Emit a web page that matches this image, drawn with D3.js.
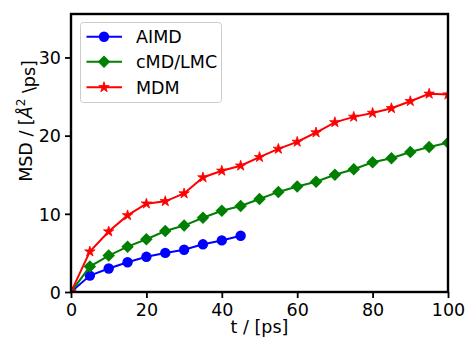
<!DOCTYPE html>
<html>
<head>
<meta charset="utf-8">
<script src="https://cdn.jsdelivr.net/npm/d3@7"></script>
<style>
  body { margin: 0; background: #fff; }
  text { font-family: "DejaVu Sans", sans-serif; }
</style>
</head>
<body>
<main></main>
<script>
// data
const tAIMD = [0, 5, 10, 15, 20, 25, 30, 35, 40, 45];
const msdAIMD = [0, 2.1, 3.0, 3.8, 4.5, 5.0, 5.4, 6.1, 6.6, 7.2];
const tLong = [0, 5, 10, 15, 20, 25, 30, 35, 40, 45, 50, 55, 60, 65, 70, 75, 80, 85, 90, 95, 100];
const msdCMD = [0, 3.25, 4.66, 5.8, 6.75, 7.8, 8.5, 9.5, 10.4, 11.0, 11.9, 12.8, 13.5, 14.1, 15.0, 15.7, 16.6, 17.1, 17.9, 18.55, 19.1];
const msdMDM = [0, 5.17, 7.73, 9.8, 11.3, 11.6, 12.6, 14.65, 15.5, 16.15, 17.25, 18.3, 19.2, 20.4, 21.7, 22.4, 22.9, 23.5, 24.4, 25.35, 25.25];
const xTicks = [0, 20, 40, 60, 80, 100];
const yTicks = [0, 10, 20, 30];
const seriesNames = ['AIMD', 'cMD/LMC', 'MDM'];

const width = 467, height = 343;
const mLeft = 71, mRight = 448, mTop = 14, mBottom = 292;

const svg = d3.select('main').append('svg')
  .attr('width', width)
  .attr('height', height);

const x = d3.scaleLinear().domain([0, 100]).range([mLeft, mRight]);
const y = d3.scaleLinear().domain([0, 35.56]).range([mBottom, mTop]);

svg.append('defs').append('clipPath').attr('id', 'clip')
  .append('rect')
  .attr('x', mLeft).attr('y', mTop)
  .attr('width', mRight - mLeft).attr('height', mBottom - mTop);

const series = [
  {name: seriesNames[0], t: tAIMD, v: msdAIMD, color: '#0000ff', shape: 'circle'},
  {name: seriesNames[1], t: tLong, v: msdCMD, color: '#008000', shape: 'diamond'},
  {name: seriesNames[2], t: tLong, v: msdMDM, color: '#ff0000', shape: 'star'}
];

function marker(sel, shape, color) {
  if (shape === 'circle') {
    sel.append('circle').attr('r', 5.2).attr('fill', color);
  } else if (shape === 'diamond') {
    sel.append('path')
      .attr('d', d3.symbol(d3.symbolSquare, 78)())
      .attr('transform', 'rotate(45)')
      .attr('fill', color);
  } else {
    sel.append('path')
      .attr('d', d3.symbol(d3.symbolStar, 34)())
      .attr('fill', color)
      .attr('stroke', color)
      .attr('stroke-width', 0.8);
  }
}

const plot = svg.append('g').attr('clip-path', 'url(#clip)');

series.forEach(function (s) {
  const pts = s.t.map(function (t, i) { return [t, s.v[i]]; });
  plot.append('path')
    .datum(pts)
    .attr('fill', 'none')
    .attr('stroke', s.color)
    .attr('stroke-width', 2)
    .attr('d', d3.line()
      .x(function (d) { return x(d[0]); })
      .y(function (d) { return y(d[1]); }));
  plot.selectAll(null)
    .data(pts)
    .enter()
    .append('g')
    .attr('transform', function (d) {
      return 'translate(' + x(d[0]) + ',' + y(d[1]) + ')';
    })
    .each(function () { marker(d3.select(this), s.shape, s.color); });
});

// axes
const xAxis = svg.append('g')
  .attr('transform', 'translate(0,' + mBottom + ')')
  .call(d3.axisBottom(x).tickValues(xTicks).tickSize(6).tickPadding(4));
const yAxis = svg.append('g')
  .attr('transform', 'translate(' + mLeft + ',0)')
  .call(d3.axisLeft(y).tickValues(yTicks).tickSize(6).tickPadding(4));

[xAxis, yAxis].forEach(function (a) {
  a.select('.domain').remove();
  a.selectAll('line').attr('stroke', '#000').attr('stroke-width', 1.8);
  a.selectAll('text')
    .attr('fill', '#000')
    .style('font-size', '17.5px')
    .style('font-family', '"DejaVu Sans", sans-serif');
});
xAxis.selectAll('text').attr('dy', '0.8em');
yAxis.selectAll('text').attr('dy', '0.36em');

svg.append('rect')
  .attr('x', mLeft).attr('y', mTop)
  .attr('width', mRight - mLeft).attr('height', mBottom - mTop)
  .attr('fill', 'none')
  .attr('stroke', '#000')
  .attr('stroke-width', 2.4);

// axis labels
svg.append('text')
  .attr('x', (mLeft + mRight) / 2)
  .attr('y', 333)
  .attr('text-anchor', 'middle')
  .style('font-size', '17.5px')
  .text('t / [ps]');

const yl = svg.append('text')
  .attr('transform', 'translate(32,121) rotate(-90)')
  .attr('text-anchor', 'middle')
  .style('font-size', '17.5px');
yl.append('tspan').text('MSD / [');
yl.append('tspan').style('font-style', 'italic').text('Å');
yl.append('tspan').attr('dy', '-0.55em').style('font-size', '12px').text('2');
yl.append('tspan').attr('dy', '0.55em').text(' \\ps]');

// legend
const legend = svg.append('g');
legend.append('rect')
  .attr('x', 80.5).attr('y', 22.5)
  .attr('width', 141).attr('height', 80)
  .attr('rx', 3)
  .attr('fill', '#fff')
  .attr('fill-opacity', 0.8)
  .attr('stroke', '#cccccc')
  .attr('stroke-width', 1);

const rowY = [36.7, 61.7, 87.3];
series.forEach(function (s, i) {
  const row = legend.append('g').attr('transform', 'translate(0,' + rowY[i] + ')');
  row.append('line')
    .attr('x1', 86.5).attr('x2', 122)
    .attr('stroke', s.color).attr('stroke-width', 2);
  const m = row.append('g').attr('transform', 'translate(104,0)');
  marker(m, s.shape, s.color);
  row.append('text')
    .attr('x', 136)
    .attr('dy', '0.36em')
    .style('font-size', '17.5px')
    .text(s.name);
});
</script>
</body>
</html>
